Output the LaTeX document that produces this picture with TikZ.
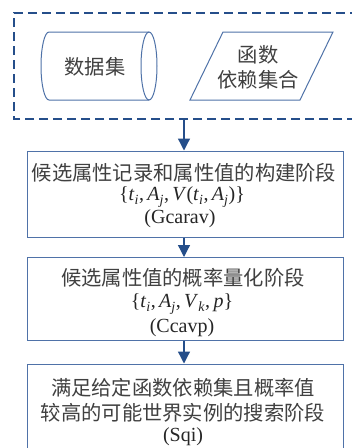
\documentclass[tikz,border=0pt]{standalone}
\usepackage{fontspec}
\setmainfont{Liberation Serif}
\newfontfamily\cjk{Noto Sans CJK SC}
\usetikzlibrary{arrows.meta}
\definecolor{dkblue}{HTML}{254E8A}
\definecolor{boxblue}{HTML}{4F72A8}
\newcommand{\isub}[2]{\textit{#1}\textsubscript{\textit{#2}}}
\tikzset{
  stagebox/.style={draw=boxblue, line width=1pt, minimum width=316pt, align=center, inner sep=0pt},
  cjktext/.style={font=\cjk\fontsize{20.3}{26}\selectfont, text=black!75},
  latintext/.style={font=\fontsize{20}{24}\selectfont, text=black!85},
  flow/.style={draw=dkblue, line width=1.3pt, -{Triangle[width=12pt,length=12pt]}},
  groupbox/.style={draw=dkblue, line width=2.6pt, dash pattern=on 9pt off 5pt}
}
\begin{document}
\begin{tikzpicture}[x=1pt,y=-1pt]
\useasboundingbox (0,0) rectangle (352,448);
\fill[white] (0,0) rectangle (352,448);
% dashed group
\draw[groupbox] (370,119) -- (14,119) -- (14,13) -- (370,13);
\coordinate (gb) at (184,119);
% cylinder (data set)
\draw[boxblue, line width=1pt] (149,32) -- (49,32) arc[start angle=270, end angle=90, x radius=8, y radius=34] -- (149,100);
\draw[boxblue, line width=1pt] (149,66) ellipse[x radius=8, y radius=34];
\node[cjktext] (ds) at (95,67) {数据集};
% parallelogram
\draw[boxblue, line width=1pt] (190,100) -- (223,32) -- (333,32) -- (300,100) -- cycle;
\node[cjktext, align=center] (fd) at (258,67) {函数\\[-1pt]依赖集合};
% stage 1
\node[stagebox, minimum height=86pt] (s1) at (185,194) {};
\node[cjktext] at (184,173) {候选属性记录和属性值的构建阶段};
\node[latintext] at (182,197) {\{\isub{t}{i},\,\isub{A}{j},\,\textit{V}(\isub{t}{i},\,\isub{A}{j})\}};
\node[latintext] at (180,219) {(Gcarav)};
% stage 2
\node[stagebox, minimum height=83pt] (s2) at (185,299) {};
\node[cjktext] at (183,278) {候选属性值的概率量化阶段};
\node[latintext] at (182,304) {\{\isub{t}{i},\,\isub{A}{j},\,\isub{V}{k},\,\textit{p}\}};
\node[latintext] at (182,328) {(Ccavp)};
% stage 3
\node[stagebox, minimum height=100pt] (s3) at (185,414) {};
\node[cjktext] at (183,388) {满足给定函数依赖集且概率值};
\node[cjktext] at (183,413) {较高的可能世界实例的搜索阶段};
\node[latintext] at (183,437) {(Sqi)};
% arrows
\draw[flow] (gb) -- (gb |- s1.north);
\draw[flow] (s1.south -| gb) -- (gb |- s2.north);
\draw[flow] (s2.south -| gb) -- (gb |- s3.north);
\end{tikzpicture}
\end{document}
